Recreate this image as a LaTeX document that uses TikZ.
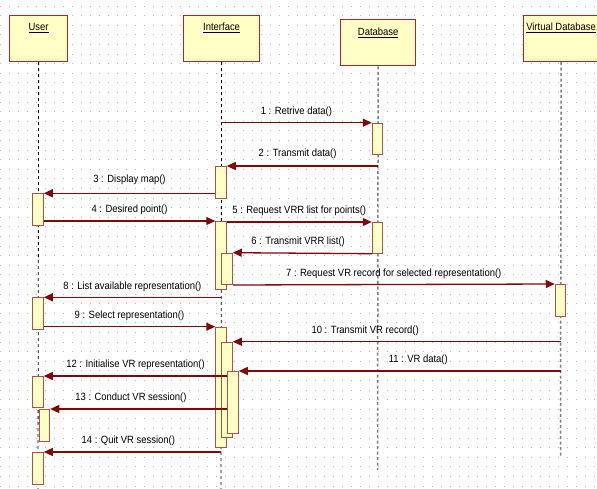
\documentclass[tikz,border=0pt]{standalone}
\usepackage{fontspec}
\setmainfont[FakeStretch=0.9]{Liberation Sans}
\usetikzlibrary{arrows.meta}
\definecolor{boxfill}{HTML}{FFFFC6}
\definecolor{boxline}{HTML}{A52A2A}
\definecolor{actline}{HTML}{B4504B}
\definecolor{msgc}{HTML}{850808}
\definecolor{gridc}{HTML}{B8B8B8}
\definecolor{dbline}{HTML}{808080}
\begin{document}
\begin{tikzpicture}[x=1pt,y=-1pt,
  every node/.style={font=\fontsize{10.5}{12}\selectfont},
  lifebox/.style={draw=boxline, fill=boxfill, line width=1.2pt, rectangle, inner sep=0pt, anchor=north west},
  title/.style={anchor=center, inner sep=0pt, yshift=-13.5pt},
  ll/.style={draw=black, line width=0.8pt, dash pattern=on 3pt off 3pt},
  dbl/.style={draw=dbline, line width=1.5pt, dash pattern=on 3pt off 2.5pt},
  act/.style={draw=actline, fill=boxfill, line width=1pt, minimum width=10.5pt, inner sep=0pt, anchor=north},
  msg/.style={draw=msgc, line width=1.3pt, -{Triangle[length=9pt,width=8pt]}},
  lbl/.style={inner sep=0pt, anchor=center, yshift=11pt}
]
\useasboundingbox (0,0) rectangle (597,489);
\clip (0,0) rectangle (597,489);
\fill[white] (0,0) rectangle (597,489);
% dotted grid
\foreach \i in {0,...,66} {\foreach \j in {0,...,50} {\fill[gridc] (9*\i,5.6+9.6*\j) rectangle ++(1,1);}}

% lifeline boxes
\node[lifebox, minimum width=57.7pt, minimum height=46.3pt] (user) at (9.2,14.7) {};
\node[lifebox, minimum width=76pt, minimum height=46.3pt] (iface) at (183,14.7) {};
\node[lifebox, minimum width=74.7pt, minimum height=46pt] (db) at (340.2,19.3) {};
\node[lifebox, minimum width=76pt, minimum height=46.3pt] (vdb) at (522.5,14.7) {};
\node[title] (userT) at (user.north) {\underline{User}};
\node[title] (ifaceT) at (iface.north) {\underline{Interface}};
\node[title] (dbT) at (db.north) {\underline{Database}};
\node[title] (vdbT) at (vdb.north) {\underline{Virtual Database}};

% lifelines
\coordinate (userEnd) at (38,489);
\coordinate (ifaceEnd) at (221,489);
\coordinate (dbEnd) at (377.5,470);
\coordinate (vdbEnd) at (560.5,457);
\draw[ll] (user.south) -- (userEnd);
\draw[ll] (iface.south) -- (ifaceEnd);
\draw[dbl] (db.south) -- (dbEnd);
\draw[dbl] (vdb.south) -- (vdbEnd);

% activations
\node[act, minimum height=31.3pt] (dbA1) at (377.5,122.7) {};
\node[act, minimum height=32.3pt] (ifA) at (221,166) {};
\node[act, minimum height=31.7pt] (uA1) at (38,193.3) {};
\node[act, minimum height=68.3pt] (ifB) at (221,221) {};
\node[act, minimum height=30.7pt] (dbA2) at (377.5,222) {};
\node[act, minimum height=31.3pt] (ifC) at (227,252.7) {};
\node[act, minimum height=32pt] (vA) at (560.5,284) {};
\node[act, minimum height=32pt] (uA2) at (38,297.3) {};
\node[act, minimum height=120pt] (ifD) at (221,326.7) {};
\node[act, minimum height=95pt] (ifE) at (227,341.7) {};
\node[act, minimum height=62.3pt] (ifF) at (233,371) {};
\node[act, minimum height=31.3pt] (uA3) at (38,376) {};
\node[act, minimum height=31.7pt] (uA4) at (44.5,409) {};
\node[act, minimum height=32pt] (uA5) at (38,452) {};

% message start points on lifelines
\coordinate (m1s) at (221,122.7);
\coordinate (m2s) at (377.5,166);
\coordinate (m8s) at (221,297.3);
\coordinate (m10s) at (560.5,341.7);
\coordinate (m11s) at (560.5,371);
\coordinate (m14s) at (221,452);

% messages
\draw[msg] (m1s) -- node[lbl, pos=0.5] (l1) {1 : Retrive data()} (dbA1.north west);
\draw[msg] (m2s) -- node[lbl, pos=0.53, yshift=1pt] (l2) {2 : Transmit data()} (ifA.north east);
\draw[msg] (ifA.west |- uA1.north) -- node[lbl, pos=0.5, yshift=3pt] (l3) {3 : Display map()} (uA1.north east);
\draw[msg] (uA1.east |- ifB.north) -- node[lbl, pos=0.5] (l4) {4 : Desired point()} (ifB.north west);
\draw[msg] (ifB.east |- dbA2.north) -- node[lbl, pos=0.5] (l5) {5 : Request VRR list for points()} (dbA2.north west);
\draw[msg] (dbA2.south west) -- node[lbl, pos=0.53] (l6) {6 : Transmit VRR list()} (ifC.north east);
\draw[msg] (ifC.south east) -- node[lbl, pos=0.5] (l7) {7 : Request VR record for selected representation()} (vA.north west);
\draw[msg] (m8s) -- node[lbl, pos=0.5] (l8) {8 : List available representation()} (uA2.north east);
\draw[msg] (uA2.east |- ifD.north) -- node[lbl, pos=0.5] (l9) {9 : Select representation()} (ifD.north west);
\draw[msg] (m10s) -- node[lbl, pos=0.596] (l10) {10 : Transmit VR record()} (ifE.north east);
\draw[msg] (m11s) -- node[lbl, pos=0.442] (l11) {11 : VR data()} (ifF.north east);
\draw[msg] (ifF.west |- uA3.north) -- node[lbl, pos=0.5] (l12) {12 : Initialise VR representation()} (uA3.north east);
\draw[msg] (ifF.west |- uA4.north) -- node[lbl, pos=0.544] (l13) {13 : Conduct VR session()} (uA4.north east);
\draw[msg] (m14s) -- node[lbl, pos=0.523] (l14) {14 : Quit VR session()} (uA5.north east);
\end{tikzpicture}
\end{document}
